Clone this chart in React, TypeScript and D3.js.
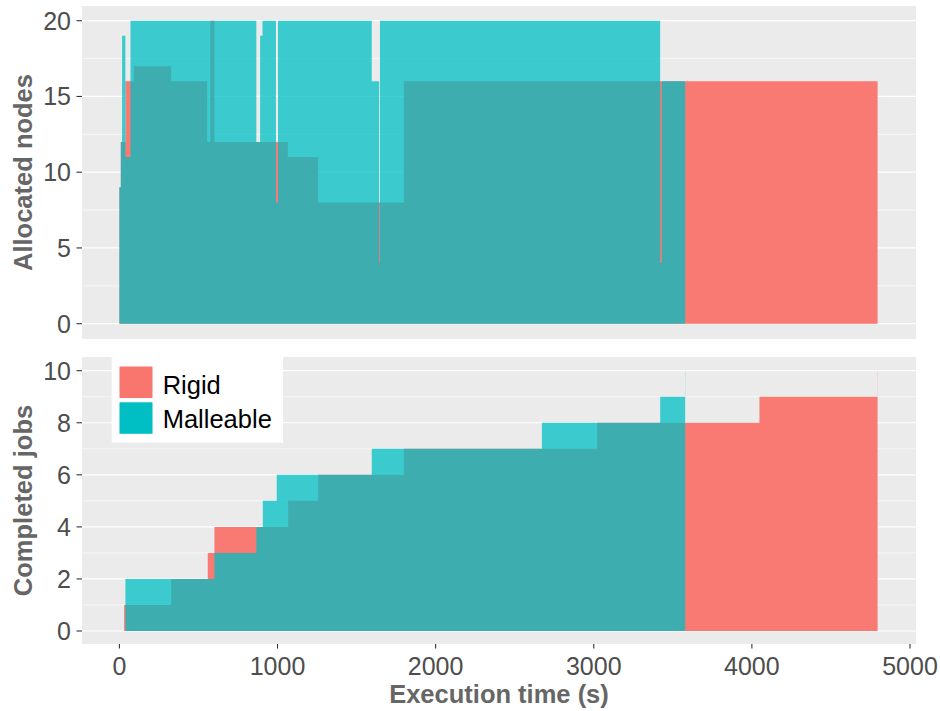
import React from 'react';
import * as d3 from 'd3';

const xTicks = [0, 1000, 2000, 3000, 4000, 5000];
const nodeTicks = [0, 5, 10, 15, 20];
const nodeMinor = [2.5, 7.5, 12.5, 17.5];
const jobTicks = [0, 2, 4, 6, 8, 10];
const jobMinor = [1, 3, 5, 7, 9];

// allocated nodes, step-after: value[i] holds from time[i] to time[i+1]
const rigidNodeTimes = [0, 9, 38, 91, 327, 555, 575, 601, 1065, 1257, 1799, 4795];
const rigidNodeValues = [9, 12, 16, 17, 16, 12, 20, 12, 11, 8, 16, 16];
const mallNodeTimes = [0, 9, 17, 38, 70, 866, 890, 905, 990, 1003, 1596, 1643, 1648, 3420, 3430, 3578];
const mallNodeValues = [9, 12, 19, 11, 20, 12, 19, 20, 8, 20, 16, 4, 20, 4, 16, 16];

// completed jobs
const rigidJobTimes = [30, 327, 559, 601, 1067, 1257, 1799, 3021, 4048, 4794, 4795];
const rigidJobValues = [1, 2, 3, 4, 5, 6, 7, 8, 9, 10, 10];
const mallJobTimes = [38, 601, 866, 907, 995, 1596, 2672, 3420, 3577, 3578];
const mallJobValues = [2, 3, 4, 5, 6, 7, 8, 9, 10, 10];

const series = ['Rigid', 'Malleable'];
const colors = ['#F8766D', '#00BFC4'];

type Pt = { t: number; v: number };
const toPts = (times: number[], values: number[]): Pt[] => times.map((t, i) => ({ t, v: values[i] }));

const font = '"Liberation Sans", Arial, sans-serif';

export default function App() {
  const left = 82, right = 916;
  const x = d3.scaleLinear().domain([0, 5000]).range([119.4, 910]);

  const top = { y0: 6, y1: 339 };
  const bot = { y0: 357, y1: 644 };
  const yTop = d3.scaleLinear().domain([0, 20]).range([323.7, 20.7]);
  const yBot = d3.scaleLinear().domain([0, 10]).range([631, 370.7]);

  const area = (y: d3.ScaleLinear<number, number>) =>
    d3.area<Pt>().curve(d3.curveStepAfter).x(d => x(d.t)).y0(y(0)).y1(d => y(d.v));

  const panel = (
    y: d3.ScaleLinear<number, number>,
    box: { y0: number; y1: number },
    major: number[],
    minor: number[],
    rigid: Pt[],
    mall: Pt[],
    title: string
  ) => {
    const gen = area(y);
    const cy = (box.y0 + box.y1) / 2;
    return (
      <g>
        <rect x={left} y={box.y0} width={right - left} height={box.y1 - box.y0} fill="#EBEBEB" />
        {minor.map(v => (
          <line key={'m' + v} x1={left} x2={right} y1={y(v)} y2={y(v)} stroke="#fff" strokeWidth={0.6} />
        ))}
        {major.map(v => (
          <line key={'g' + v} x1={left} x2={right} y1={y(v)} y2={y(v)} stroke="#fff" strokeWidth={1.2} />
        ))}
        <path d={gen(rigid) || ''} fill={colors[0]} fillOpacity={0.97} />
        <path d={gen(mall) || ''} fill={colors[1]} fillOpacity={0.75} />
        {major.map(v => (
          <g key={'t' + v}>
            <line x1={76.5} x2={left} y1={y(v)} y2={y(v)} stroke="#333" strokeWidth={1.1} />
            <text x={71} y={y(v)} dy="0.36em" textAnchor="end" fontSize={25} fill="#4D4D4D" fontFamily={font}>
              {v}
            </text>
          </g>
        ))}
        <text
          transform={`translate(32,${cy}) rotate(-90)`}
          textAnchor="middle"
          fontSize={25.5}
          fontWeight="bold"
          fill="#666"
          fontFamily={font}
        >
          {title}
        </text>
      </g>
    );
  };

  return (
    <svg width={940} height={711} style={{ position: 'absolute', left: 0, top: 0, background: '#fff' }}>
      {panel(yTop, top, nodeTicks, nodeMinor, toPts(rigidNodeTimes, rigidNodeValues), toPts(mallNodeTimes, mallNodeValues), 'Allocated nodes')}
      {panel(yBot, bot, jobTicks, jobMinor, toPts(rigidJobTimes, rigidJobValues), toPts(mallJobTimes, mallJobValues), 'Completed jobs')}

      {xTicks.map(t => (
        <g key={t}>
          <line x1={x(t)} x2={x(t)} y1={bot.y1} y2={bot.y1 + 4.5} stroke="#333" strokeWidth={1.1} />
          <text x={x(t)} y={675} textAnchor="middle" fontSize={25} fill="#4D4D4D" fontFamily={font}>
            {t}
          </text>
        </g>
      ))}
      <text x={(left + right) / 2} y={703} textAnchor="middle" fontSize={25.5} fontWeight="bold" fill="#666" fontFamily={font}>
        Execution time (s)
      </text>

      <g>
        <rect x={111.7} y={356.7} width={171.3} height={86} fill="#fff" />
        {series.map((s, i) => (
          <g key={s}>
            <rect x={119.5} y={366.5 + i * 35.8} width={33} height={31.5} fill={colors[i]} />
            <text x={162.7} y={393.5 + i * 34} fontSize={25.5} fill="#000" fontFamily={font}>
              {s}
            </text>
          </g>
        ))}
      </g>
    </svg>
  );
}
